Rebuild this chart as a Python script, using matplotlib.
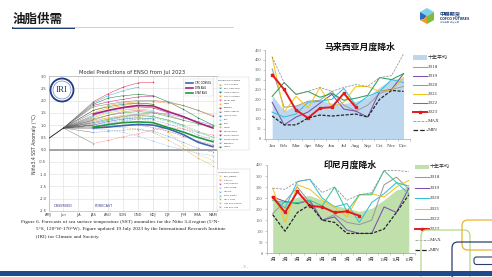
import matplotlib
matplotlib.use("Agg")
import matplotlib.pyplot as plt
from matplotlib.patches import FancyBboxPatch, Rectangle, Polygon, Circle
from matplotlib.collections import PolyCollection
from matplotlib.font_manager import FontProperties
import numpy as np

W, H = 492, 277
plt.rcParams["font.family"] = ["Noto Sans CJK SC", "DejaVu Sans"]
plt.rcParams["axes.unicode_minus"] = False

SERIF = ["Liberation Serif", "Noto Sans CJK SC"]

# ---------------- ENSO plume data ----------------
season_labels = ["AMJ", "Jun", "JJA", "JAS", "ASO", "SON", "OND", "NDJ", "DJF", "JFM", "FMA", "MAM"]
observed = [0.45, 0.88]

dyn_names = ["AUS-ACCESS", "BCC_CSM11m", "CMC CANSIP", "COLA CCSM4", "CS-IRI-MM", "DWD",
             "ECMWF", "GFDL SPEAR", "IOCAS ICM", "JMA", "KMA", "LDEO", "MetFRANCE",
             "NASA GMAO", "NCEP CFSv2", "SINTEX-F", "UKMO"]
dyn_colors = ["#e0a820", "#40b0e0", "#1f7a3a", "#f0a040", "#e07090", "#e8c030",
              "#b03070", "#808080", "#3070c0", "#80c8e8", "#40a040", "#d8a0a0",
              "#e03050", "#a040a0", "#20a0a0", "#9090e0", "#208040"]
dyn_values = [
    [1.50, 1.70, 1.80, 1.90, 1.85],
    [1.90, 2.20, 2.40, 2.55],
    [1.85, 2.10, 2.20, 2.25, 2.20, 1.95, 1.65, 1.30, 1.00],
    [1.60, 1.80, 1.90, 1.95, 1.95, 1.90, 1.80, 1.60, 1.40],
    [1.20, 1.40, 1.55, 1.60, 1.55, 1.40, 1.20],
    [1.30, 1.50, 1.60, 1.70, 1.70, 1.60],
    [1.80, 1.95, 2.05, 2.15, 2.18],
    [1.75, 1.85, 1.95, 2.00, 2.00, 1.95, 1.80, 1.60, 1.35],
    [1.00, 1.15, 1.25, 1.30, 1.25],
    [1.35, 1.55, 1.65, 1.65, 1.60],
    [1.25, 1.40, 1.50, 1.55, 1.50, 1.35, 1.20, 1.05, 0.95],
    [1.15, 1.30, 1.40, 1.45, 1.40],
    [1.95, 2.28, 2.55, 2.72, 2.75],
    [1.40, 1.60, 1.70, 1.75, 1.70, 1.50],
    [1.10, 1.25, 1.35, 1.40, 1.35, 1.20, 1.00],
    [1.05, 1.20, 1.35, 1.45, 1.50, 1.45, 1.30, 1.15, 1.00],
    [1.60, 1.75, 1.85, 1.90, 1.85],
]

stat_names = ["BCC_RZDM", "CPC CA", "CPC MRKOV", "CSU CLIPR", "IAP-NN", "NTU CODA",
              "UCLA-TCD", "UW PSL-CSLIM", "UW PSL-LIM"]
stat_colors = ["#e8c840", "#f08080", "#c060a0", "#a0c0e0", "#80a0d0", "#60c0c0",
               "#90c060", "#d0b060", "#b090d0"]
stat_values = [
    [1.20, 1.30, 1.35, 1.30, 1.10, 0.70, 0.20, -0.20, -0.45],
    [0.25, 0.38, 0.52, 0.65, 0.80, 0.90, 0.85, 0.70, 0.60],
    [0.90, 0.95, 1.00, 1.00, 0.90, 0.75, 0.55, 0.35, 0.20],
    [0.85, 0.80, 0.70, 0.55, 0.35, 0.15, 0.00, -0.15, -0.25],
    [0.70, 0.75, 0.80, 0.82, 0.75, 0.55, 0.30, 0.05, -0.10],
    [0.95, 1.05, 1.15, 1.25, 1.30, 1.15, 0.95, 0.70, 0.50],
    [1.10, 1.20, 1.30, 1.35, 1.35, 1.20, 1.00, 0.75, 0.50],
    [1.00, 0.95, 0.90, 0.85, 0.70, 0.40, 0.05, -0.35, -0.65],
    [1.00, 1.10, 1.20, 1.25, 1.20, 1.05, 0.85, 0.60, 0.40],
]

avg_names = ["CPC CONSOL", "DYN AVG", "STAT AVG"]
avg_colors = ["#3a66b0", "#a8217c", "#1e9a3c"]
avg_values = [
    [0.88, 0.92, 0.98, 1.03, 1.00, 0.85, 0.62, 0.30, 0.12],
    [1.45, 1.60, 1.72, 1.80, 1.78, 1.55, 1.35, 1.10, 0.88],
    [0.92, 1.02, 1.10, 1.13, 1.10, 0.90, 0.72, 0.50, 0.32],
]

# ---------------- Malaysia rainfall ----------------
months_en = ["Jan", "Feb", "Mar", "Apr", "May", "Jun", "Jul", "Aug", "Sep", "Oct", "Nov", "Dec"]
my_avg = [222, 140, 170, 188, 195, 180, 178, 190, 210, 262, 300, 310]
my_2018 = [355, 160, 165, 190, 195, 240, 170, 140, 170, 230, 250, 265]
my_2019 = [185, 70, 110, 135, 180, 225, 150, 140, 110, 240, 250, 330]
my_2020 = [135, 110, 125, 185, 190, 200, 255, 170, 215, 240, 300, 285]
my_2021 = [415, 135, 215, 155, 260, 160, 185, 265, 265, 240, 245, 310]
my_2022 = [215, 285, 225, 240, 210, 230, 195, 205, 220, 310, 300, 330]
my_2023 = [325, 250, 145, 105, 155, 160, 230, 160]
my_max = [415, 285, 225, 240, 260, 240, 260, 275, 265, 310, 320, 430]
my_min = [115, 70, 70, 105, 120, 115, 120, 125, 110, 200, 245, 240]

# ---------------- Indonesia rainfall ----------------
months_cn = ["1月", "2月", "3月", "4月", "5月", "6月", "7月", "8月", "9月", "10月", "11月", "12月"]
id_avg = [242, 234, 255, 262, 240, 218, 204, 190, 204, 242, 287, 302]
id_2018 = [180, 235, 300, 230, 150, 175, 140, 130, 150, 310, 345, 290]
id_2019 = [255, 235, 225, 240, 150, 165, 105, 90, 90, 210, 185, 295]
id_2020 = [250, 205, 325, 335, 250, 210, 225, 140, 230, 270, 320, 270]
id_2021 = [295, 140, 310, 290, 240, 210, 165, 265, 270, 255, 300, 330]
id_2022 = [240, 230, 230, 240, 215, 300, 190, 265, 265, 375, 320, 305]
id_2023 = [255, 185, 280, 215, 210, 185, 190, 170]
id_max = [295, 290, 325, 335, 275, 300, 240, 265, 275, 375, 375, 370]
id_min = [175, 100, 185, 220, 150, 140, 90, 90, 90, 110, 185, 265]

year_labels = ["十年平均", "2018", "2019", "2020", "2021", "2022", "2023", "MAX", "MIN"]


def px_axes(fig, l, t, r, b, **kw):
    return fig.add_axes([l / W, 1 - b / H, (r - l) / W, (b - t) / H], **kw)


def overlay(fig, z):
    o = fig.add_axes([0, 0, 1, 1], zorder=z)
    o.set_xlim(0, W)
    o.set_ylim(H, 0)
    o.axis("off")
    return o


def key_list(o, handles, labels, x0, y0, dy, hl, tx, font, ms_scale=1.0):
    """legend rows drawn at fixed pixel rows, styled from the plotted artists"""
    for i, (h, lab) in enumerate(zip(handles, labels)):
        y = y0 + i * dy
        if isinstance(h, PolyCollection):
            o.add_patch(Rectangle((x0, y - 2.2), hl, 4.4, color=h.get_facecolor()[0], lw=0))
        else:
            o.plot([x0, x0 + hl], [y, y], color=h.get_color(), lw=h.get_linewidth(),
                   ls=h.get_linestyle())
            if h.get_marker() not in (None, "None", ""):
                o.plot([x0 + hl / 2], [y], marker=h.get_marker(), color=h.get_color(),
                       ms=h.get_markersize() * ms_scale, mew=h.get_markeredgewidth(), ls="none")
        o.text(tx, y, lab, fontproperties=font, va="center", ha="left", color="#333333")


fig = plt.figure(figsize=(W / 100, H / 100), dpi=100, facecolor="white")

# ===== slide decorations =====
deco = overlay(fig, 0)
deco.text(13, 19.5, "油脂供需", fontsize=9, fontweight="bold", color="#1a1a1a",
          ha="left", va="center")
deco.plot([13, 233], [27, 27], color="#c8c8c8", lw=0.6)
deco.add_patch(Rectangle((12, 26.8), 63, 2.4, color="#1c3f7a", lw=0))

# logo
cx, cy = 427, 16
top, ur, lr, bot, ll, ul = (cx, 8), (cx + 7, 12), (cx + 7, 20), (cx, 24), (cx - 7, 20), (cx - 7, 12)
deco.add_patch(Polygon([top, ur, (cx, cy), ul], color="#7fd0f0", lw=0))
deco.add_patch(Polygon([ul, (cx, cy), (cx - 3, 19), ll], color="#2a6cc0", lw=0))
deco.add_patch(Polygon([(cx - 3, 19), (cx, cy), bot, ll], color="#f29a20", lw=0))
deco.add_patch(Polygon([(cx, cy), ur, lr, bot], color="#7cbd3c", lw=0))
deco.text(440, 13.5, "中粮期货", fontsize=3.8, fontweight="bold", color="#1c3f7a",
          ha="left", va="center")
deco.text(440, 19, "COFCO FUTURES", fontsize=2.3, fontweight="bold", color="#1c3f7a",
          ha="left", va="center", family="DejaVu Sans")
deco.text(440, 22.5, "中粮集团  期货公司", fontsize=1.6, color="#7a8aa8", ha="left", va="center")

deco.text(245, 267, "- 9 -", fontsize=2.6, color="#a0a0a0", ha="center", va="center",
          family="DejaVu Sans")

cap = [
    (21, 222, "Figure 6. Forecasts of sea surface temperature (SST) anomalies for the Niño 3.4 region (5°N-"),
    (36, 229.3, "5°S, 120°W-170°W). Figure updated 19 July 2023 by the International Research Institute"),
    (36, 236.6, "(IRI) for Climate and Society."),
]
for x0, y0, s in cap:
    deco.text(x0, y0, s, fontsize=3.75, family="Liberation Serif", color="#222222",
              ha="left", va="center")

# ===== ENSO plume =====
ax = px_axes(fig, 48.5, 76, 216.5, 211, zorder=2)
ax.set_xlim(0, 11.24)
ax.set_ylim(-2.5, 3.0)
ax.set_xticks(range(len(season_labels)))
ax.set_xticklabels(season_labels, fontsize=2.6, color="#444444", family="DejaVu Sans")
yt = np.arange(-2.5, 3.01, 0.5)
ax.set_yticks(yt)
ax.set_yticklabels([f"{v:.1f}" for v in yt], fontsize=2.6, color="#444444", family="DejaVu Sans")
ax.tick_params(length=0, pad=1.5)
ax.grid(color="#dcdcdc", lw=0.4)
ax.set_axisbelow(True)
for sp in ax.spines.values():
    sp.set_color("#aaaaaa")
    sp.set_linewidth(0.4)
ax.axhline(0, color="#8c8c8c", lw=1.1, zorder=1)
ax.set_ylabel("Niño3.4 SST Anomaly (°C)", fontsize=3.3, color="#333333", labelpad=1.5,
              family="DejaVu Sans")
ax.set_title("Model Predictions of ENSO from Jul 2023", fontsize=3.8, color="#333333",
             pad=1.5, family="DejaVu Sans")

ax.plot([0, 1], observed, color="#111111", lw=0.6, zorder=4)
for vals in dyn_values + stat_values:
    ax.plot([1, 3], [observed[1], vals[0]], color="#555555", lw=0.25, zorder=2)
dyn_handles = []
for name, col, vals in zip(dyn_names, dyn_colors, dyn_values):
    xs = np.arange(3, 3 + len(vals))
    ln, = ax.plot(xs, vals, color=col, lw=0.35, marker="o", ms=1.1, mew=0,
                  label=name, zorder=3)
    dyn_handles.append(ln)
stat_handles = []
for name, col, vals in zip(stat_names, stat_colors, stat_values):
    xs = np.arange(3, 3 + len(vals))
    ln, = ax.plot(xs, vals, color=col, lw=0.35, ls="--", marker="x", ms=1.0, mew=0.3,
                  label=name, zorder=3)
    stat_handles.append(ln)
avg_handles = []
for name, col, vals in zip(avg_names, avg_colors, avg_values):
    xs = np.arange(3, 3 + len(vals))
    ln, = ax.plot(xs, vals, color=col, lw=1.2, label=name, zorder=5)
    avg_handles.append(ln)

ax.text(0.35, -2.3, "OBSERVED", fontsize=2.4, color="#3a3a8c", family="DejaVu Sans",
        va="center")
ax.text(3.1, -2.3, "FORECAST", fontsize=2.4, color="#3a3a8c", family="DejaVu Sans",
        va="center")

small = FontProperties(family="DejaVu Sans", size=1.8)
tiny = FontProperties(family="DejaVu Sans", size=1.7)
leg_avg = ax.legend(handles=avg_handles, loc="upper right", bbox_to_anchor=(0.985, 0.985),
                    prop=small, handlelength=3.0, labelspacing=0.5, borderpad=0.5,
                    frameon=True, edgecolor="#cccccc", fancybox=False)
leg_avg.get_frame().set_linewidth(0.3)

# model keys to the right of the plume
ov = overlay(fig, 6)
ov.add_patch(Rectangle((216.8, 77), 32, 73, facecolor="white", edgecolor="#cccccc", lw=0.3))
ov.text(218, 80.5, "Dynamical Models", fontproperties=tiny, va="center", color="#333333")
key_list(ov, dyn_handles, dyn_names, 218.5, 84.5, 3.9, 3.5, 223.5, tiny)
ov.add_patch(Rectangle((216.8, 168.5), 33, 41, facecolor="white", edgecolor="#cccccc", lw=0.3))
ov.text(218, 172, "Statistical Models", fontproperties=tiny, va="center", color="#333333")
key_list(ov, stat_handles, stat_names, 218.5, 176, 3.9, 3.5, 223.5, tiny)

# IRI logo
ov.add_patch(Circle((62, 90), 11.5, facecolor="white", edgecolor="#1f3c88", lw=1.3))
ov.add_patch(Circle((62, 90), 9.0, facecolor="none", edgecolor="#1f3c88", lw=0.3))
ov.text(62, 90.5, "IRI", fontsize=6.5, family="Liberation Serif", color="#1f3c88",
        ha="center", va="center")


# ===== rainfall charts =====
def rain_chart(box, lims, cats, avg, ys, cur, vmax, vmin, fill, colors, title, title_xy,
               xfont, key_xy, key_dy):
    l, t, r, b = box
    a = px_axes(fig, l, t, r, b, zorder=3)
    x = np.arange(len(cats))
    handles = [a.fill_between(x, avg, color=fill, lw=0, label=year_labels[0])]
    for lab, vals, col in zip(year_labels[1:6], ys, colors):
        h, = a.plot(x, vals, color=col, lw=0.75, label=lab)
        handles.append(h)
    h, = a.plot(x[:len(cur)], cur, color="#e3191c", lw=1.4, marker="s", ms=1.8, label="2023")
    handles.append(h)
    h, = a.plot(x, vmax, color="#8c8c8c", lw=0.55, ls=(0, (3, 1.5)), label="MAX")
    handles.append(h)
    h, = a.plot(x, vmin, color="#262626", lw=0.9, ls=(0, (2.5, 1.2)), label="MIN")
    handles.append(h)
    a.set_xlim(lims[0], lims[1])
    a.set_ylim(0, lims[2])
    a.set_yticks(np.arange(0, lims[2] + 1, 50))
    a.set_yticklabels([str(v) for v in range(0, lims[2] + 1, 50)], fontsize=3.2,
                      family="Liberation Serif", color="#595959")
    a.set_xticks(x)
    a.set_xticklabels(cats, fontsize=xfont, family=SERIF, color="#404040")
    a.set_xticks(np.arange(-0.5, len(cats), 1), minor=True)
    a.tick_params(axis="x", which="major", length=0, pad=3.5)
    a.tick_params(axis="x", which="minor", length=1.5, width=0.4, color="#a0a0a0")
    a.tick_params(axis="y", length=1.3, width=0.4, color="#a0a0a0", pad=1.5)
    for s in ("top", "right"):
        a.spines[s].set_visible(False)
    for s in ("left", "bottom"):
        a.spines[s].set_color("#a6a6a6")
        a.spines[s].set_linewidth(0.5)
    a.patch.set_alpha(0)
    fig.text(title_xy[0] / W, 1 - title_xy[1] / H, title, fontsize=6.4, fontweight="bold",
             color="#111111", ha="center", va="center", zorder=7)
    key_list(ov, handles, year_labels, key_xy[0], key_xy[1], key_dy, 13.5, key_xy[0] + 15,
             FontProperties(family=SERIF, size=3.6))
    return a


rain_chart((265, 50, 409.5, 138.7), (-0.6, 11.5, 450), months_en, my_avg,
           [my_2018, my_2019, my_2020, my_2021, my_2022], my_2023, my_max, my_min,
           "#bdd7ee", ["#a0a0a0", "#7a4fb0", "#33c0e0", "#f2c61f", "#2e9e5a"],
           "马来西亚月度降水", (360, 47), 3.8, (413, 57.5), 9.1)

rain_chart((266.5, 165, 415, 253.3), (-0.45, 11.5, 400), months_cn, id_avg,
           [id_2018, id_2019, id_2020, id_2021, id_2022], id_2023, id_max, id_min,
           "#bfe0aa", ["#9a9a9a", "#7a4fb0", "#33c0e0", "#f2c61f", "#3cc89a"],
           "印尼月度降水", (350, 165), 3.3, (415, 167), 10.4)

# decorative rounded frames, lower right, and bottom bar
top_ax = overlay(fig, 8)
top_ax.add_patch(FancyBboxPatch((421, 230), 49, 60, boxstyle="round,pad=0,rounding_size=6",
                                facecolor="none", edgecolor="#b5d98a", lw=0.9))
top_ax.add_patch(FancyBboxPatch((462, 220), 45, 30, boxstyle="round,pad=0,rounding_size=6",
                                facecolor="none", edgecolor="#e8b530", lw=0.9))
top_ax.add_patch(FancyBboxPatch((452, 242), 60, 40, boxstyle="round,pad=0,rounding_size=6",
                                facecolor="none", edgecolor="#2a3f6e", lw=0.9))
top_ax.add_patch(FancyBboxPatch((474, 257), 30, 7.5, boxstyle="round,pad=0,rounding_size=2.5",
                                facecolor="none", edgecolor="#2a3f6e", lw=0.8))
top_ax.add_patch(Rectangle((0, 270.5), W, 5.5, color="#1c4a8c", lw=0))

fig.savefig("out.png", dpi=100, facecolor="white")
